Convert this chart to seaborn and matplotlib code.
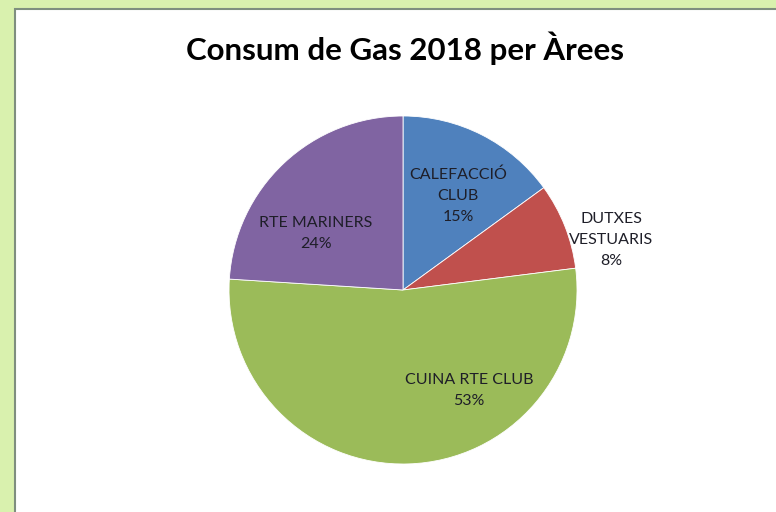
import numpy as np
import matplotlib
matplotlib.use('Agg')
import matplotlib.pyplot as plt
import seaborn as sns
from matplotlib.patches import Rectangle

# --- data ---
areas = ['CALEFACCIÓ\nCLUB', 'DUTXES\nVESTUARIS', 'CUINA RTE CLUB', 'RTE MARINERS']
shares = [15, 8, 53, 24]
colors = ['#4F81BD', '#C0504D', '#9BBB59', '#8064A2']
title = 'Consum de Gas 2018 per Àrees'

sns.set_theme(style='white')
plt.rcParams['font.family'] = ['Lato', 'DejaVu Sans']

fig = plt.figure(figsize=(7.76, 5.12), dpi=100)
fig.patch.set_facecolor('#D9F1AE')

# white chart area with thin grey edge (frame on left/top)
fig.patches.append(Rectangle((15 / 776, -0.01), 1, 1.01 - 9 / 512, transform=fig.transFigure,
                             facecolor='white', edgecolor='#7F8F7F', linewidth=1.5, zorder=-10))

ax = fig.add_axes([0.2951, 0.09375, 0.4485, 0.6797])
ax.set_zorder(5)
ax.patch.set_alpha(0)
wedges, _ = ax.pie(shares, colors=colors, startangle=90, counterclock=False,
                   radius=1, wedgeprops=dict(edgecolor='white', linewidth=0.6))
ax.set_xlim(-1, 1)
ax.set_ylim(-1, 1)
ax.set_aspect('equal')
ax.axis('off')

# label placement (Excel-like best fit)
label_ang = [59.7, 13.5, -56.8, 147.2]
label_r = [0.626, 1.23, 0.69, 0.595]
for name, v, a, r in zip(areas, shares, label_ang, label_r):
    t = np.deg2rad(a)
    ax.text(r * np.cos(t), r * np.sin(t), f'{name}\n{v}%', ha='center', va='center',
            fontsize=11.5, color='#1E1E28', linespacing=1.65)

fig.text(0.522, 1 - 48 / 512, title, ha='center', va='center',
         fontsize=22.5, fontweight='bold', color='black')

fig.savefig('out.png', dpi=100, facecolor=fig.get_facecolor())
